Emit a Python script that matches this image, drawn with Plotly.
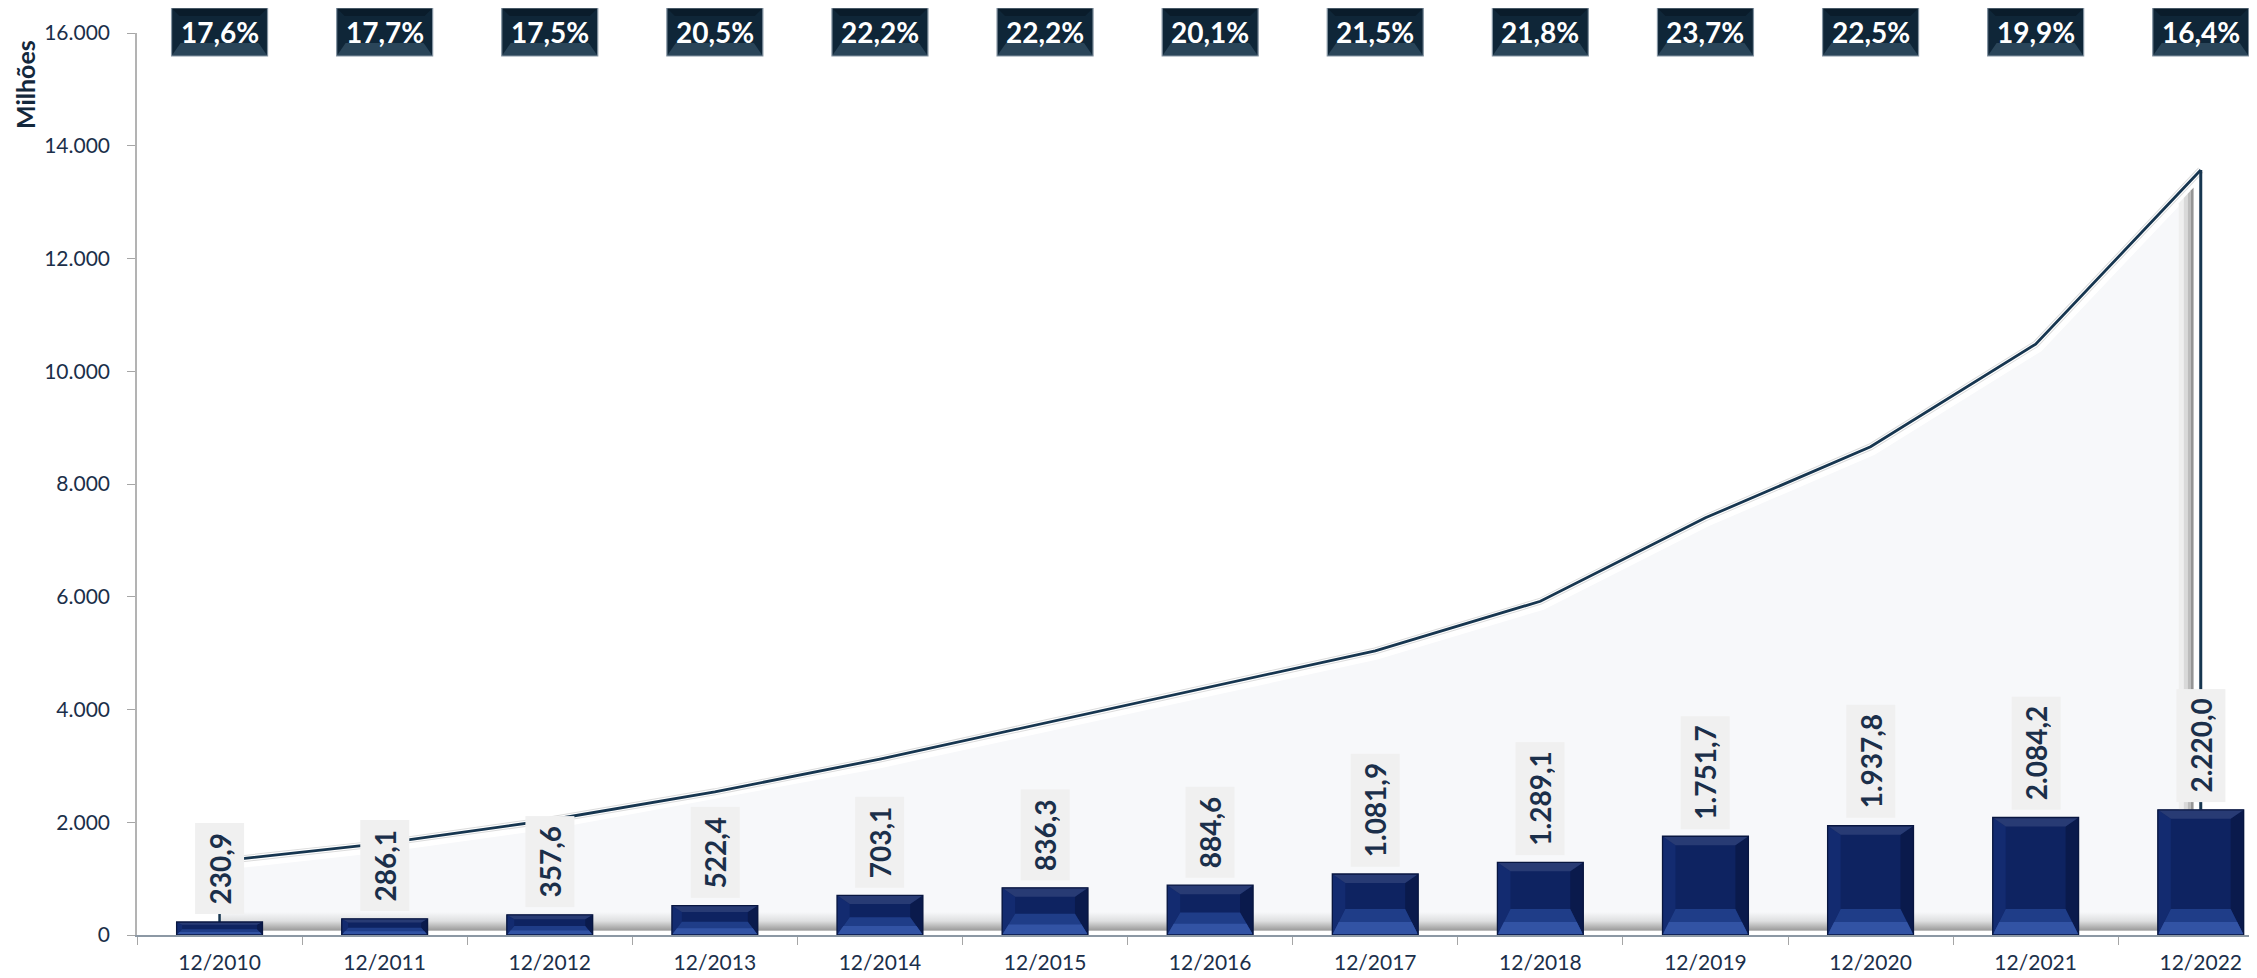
import plotly.graph_objects as go

# ---------------- data ----------------
categories = ["12/2010", "12/2011", "12/2012", "12/2013", "12/2014", "12/2015", "12/2016",
              "12/2017", "12/2018", "12/2019", "12/2020", "12/2021", "12/2022"]
bar_values = [230.9, 286.1, 357.6, 522.4, 703.1, 836.3, 884.6, 1081.9, 1289.1, 1751.7,
              1937.8, 2084.2, 2220.0]
line_values = [1310, 1630, 2040, 2540, 3120, 3760, 4400, 5040, 5920, 7400, 8660, 10480, 13570]
pct_labels = ["17,6%", "17,7%", "17,5%", "20,5%", "22,2%", "22,2%", "20,1%", "21,5%",
              "21,8%", "23,7%", "22,5%", "19,9%", "16,4%"]
y_ticks = [0, 2000, 4000, 6000, 8000, 10000, 12000, 14000, 16000]
y_title = "Milhões"

# ---------------- layout constants ----------------
# the page body has an 8px margin, so the figure is offset by 8px
OFF = 8
W, H = 2257, 978
ML, MR, MT = 137 - OFF, 0, 33 - OFF
MB = H - (935 - OFF)
PLOT_W, PLOT_H = W - ML - MR, H - MT - MB
Y_MIN, Y_MAX = 0, 16000
CAT_PX = 165.1
X_RANGE = [-0.5, -0.5 + PLOT_W / CAT_PX]
BAR_WIDTH = 0.52
UNITS_PER_PX = (Y_MAX - Y_MIN) / PLOT_H
BAR_PX = BAR_WIDTH * CAT_PX

FONT = "Lato"
TXT = "#1b2f4a"
LINE_DARK = "#173650"


def fmt_br(v):
    s = f"{v:,.1f}"
    return s.replace(",", "X").replace(".", ",").replace("X", ".")


def path(pts):
    return "M " + " L ".join(f"{x:.2f},{y:.2f}" for x, y in pts) + " Z"


fig = go.Figure()

# area with floor gradient
frac = lambda px: px / PLOT_H
fig.add_trace(go.Scatter(
    x=categories, y=line_values, mode="lines", fill="tozeroy",
    line=dict(color="#ffffff", width=18),
    fillgradient=dict(
        type="vertical", start=Y_MIN, stop=Y_MAX,
        colorscale=[[0, "#ffffff"], [frac(3.5), "#ffffff"], [frac(5), "#9d9d9d"],
                    [frac(8), "#b3b3b3"], [frac(14), "#dedfe0"], [frac(23), "#f7f8fa"],
                    [1, "#f7f8fa"]]),
    hoverinfo="skip", showlegend=False,
))
# thin light line just under the dark line (3D edge)
fig.add_trace(go.Scatter(
    x=categories, y=line_values, mode="lines",
    line=dict(color="#dcdcdc", width=7), hoverinfo="skip", showlegend=False,
))
fig.add_trace(go.Scatter(
    x=categories, y=line_values, mode="lines",
    line=dict(color="#ffffff", width=5), hoverinfo="skip", showlegend=False,
))
# dark line
fig.add_trace(go.Scatter(
    x=categories, y=line_values, mode="lines",
    line=dict(color=LINE_DARK, width=2.8), showlegend=False,
))
# bars (on an overlaid subplot so they are drawn above the area)
fig.add_trace(go.Bar(
    x=categories, y=bar_values, width=BAR_WIDTH, xaxis="x2", yaxis="y2",
    marker=dict(color="#0e2361", line=dict(width=0)), showlegend=False,
))

shapes = []

# right edge shading of the area
slope = (line_values[-1] - line_values[-2]) / CAT_PX
gap = 10 * UNITS_PER_PX
top_at = lambda px: line_values[-1] + px * slope - gap
for a, b, col in [(-22, -17, "#efefef"), (-17, -13, "#d9d9d9"), (-13, -10, "#bcbcbc"),
                  (-10, -7, "#959595"), (-7, -2, "#ffffff")]:
    shapes.append(dict(type="path", xref="x", yref="y", xsizemode="pixel",
                       xanchor=categories[-1], layer="above",
                       path=path([(a, bar_values[-1]), (b, bar_values[-1]),
                                  (b, top_at(b)), (a, top_at(a))]),
                       fillcolor=col, line=dict(width=0)))
# vertical edges of the area
shapes.append(dict(type="line", xref="x", yref="y", x0=categories[-1], x1=categories[-1],
                   y0=bar_values[-1], y1=line_values[-1], layer="above",
                   line=dict(color=LINE_DARK, width=3)))
shapes.append(dict(type="line", xref="x", yref="y", x0=categories[0], x1=categories[0],
                   y0=bar_values[0], y1=line_values[0], layer="above",
                   line=dict(color=LINE_DARK, width=2.5)))

# bevels for bars
hw = BAR_PX / 2
for cat, v in zip(categories, bar_values):
    h = v / UNITS_PER_PX
    bb = min(26, 0.45 * h)
    tb = min(9, 0.22 * h)
    bx = min(13, 0.6 * bb + 2)

    def add(pts, col, line=None):
        shapes.append(dict(type="path", xref="x", yref="y", xsizemode="pixel",
                           ysizemode="pixel", xanchor=cat, yanchor=0, layer="above",
                           path=path(pts), fillcolor=col,
                           line=line if line else dict(width=0)))
    add([(-hw, 0), (-hw, h), (-hw + bx, h - tb), (-hw + bx, bb)], "#132b70")
    add([(hw, 0), (hw, h), (hw - bx, h - tb), (hw - bx, bb)], "#0a1a4c")
    add([(-hw, h), (hw, h), (hw - bx, h - tb), (-hw + bx, h - tb)], "#283b74")
    add([(-hw, 0), (hw, 0), (hw - bx, bb), (-hw + bx, bb)], "#1f3d88")
    add([(-hw, 0), (hw, 0), (hw - bx * 0.5, bb * 0.5), (-hw + bx * 0.5, bb * 0.5)], "#3253a4")
    add([(-hw, 0), (hw, 0), (hw, h), (-hw, h)], "rgba(0,0,0,0)",
        dict(color="#081640", width=1.3))

# percentage boxes at the top
bw, bh = 48, 24
for cat in categories:
    def addp(pts, col, line=None):
        shapes.append(dict(type="path", xref="x", yref="paper", xsizemode="pixel",
                           ysizemode="pixel", xanchor=cat, yanchor=1, layer="above",
                           path=path(pts), fillcolor=col,
                           line=line if line else dict(width=0)))
    y0, y1 = -bh + 1, bh + 1
    addp([(-bw, y0), (bw, y0), (bw, y1), (-bw, y1)], "#0f2638")
    addp([(-bw, y0), (bw, y0), (bw - 9, y0 + 13), (-bw + 9, y0 + 13)], "#2a4559")
    addp([(-bw, y1), (bw, y1), (bw - 8, y1 - 8), (-bw + 8, y1 - 8)], "#0a1c2b")
    addp([(-bw, y0), (bw, y0), (bw, y1), (-bw, y1)], "rgba(0,0,0,0)",
         dict(color="#8494a2", width=1.2))

annotations = []
for cat, v in zip(categories, bar_values):
    annotations.append(dict(
        x=cat, y=v, xref="x", yref="y", text=fmt_br(v), showarrow=False,
        textangle=-90, yanchor="bottom", xanchor="center", yshift=7,
        bgcolor="#f0f0f0", borderpad=9, height=30,
        font=dict(family=FONT, size=28, color=TXT, weight="bold"),
    ))
for cat, p in zip(categories, pct_labels):
    annotations.append(dict(
        x=cat, y=1, xref="x", yref="paper", text=p, showarrow=False,
        yanchor="middle", xanchor="center", yshift=1,
        font=dict(family=FONT, size=28, color="#ffffff", weight="bold"),
    ))
annotations.append(dict(
    x=0, y=1, xref="paper", yref="paper", text=y_title, showarrow=False,
    textangle=-90, xanchor="center", yanchor="middle", xshift=25 - 137, yshift=-52,
    font=dict(family=FONT, size=25, color="#14283c", weight="bold"),
))

fig.update_layout(
    width=W, height=H,
    margin=dict(l=ML, r=MR, t=MT, b=MB, pad=0),
    paper_bgcolor="#ffffff", plot_bgcolor="#ffffff",
    separators=",.",
    barmode="overlay",
    showlegend=False,
    shapes=shapes,
    annotations=annotations,
    font=dict(family=FONT, color=TXT),
    xaxis=dict(
        type="category", range=X_RANGE, tickson="boundaries",
        ticks="outside", ticklen=8, tickcolor="#a6a6a6", tickwidth=1.3,
        showline=True, linecolor="#8c98a4", linewidth=1.5,
        showgrid=False, zeroline=False, ticklabelstandoff=8,
        tickfont=dict(family=FONT, size=21, color=TXT),
    ),
    yaxis=dict(
        range=[Y_MIN, Y_MAX], tickvals=y_ticks, tickformat=",d",
        ticks="outside", ticklen=8, tickcolor="#a6a6a6", tickwidth=1.3,
        showline=True, linecolor="#b3b3b3", linewidth=1.5,
        showgrid=False, zeroline=False, ticklabelstandoff=13,
        tickfont=dict(family=FONT, size=21, color=TXT),
    ),
    xaxis2=dict(type="category", overlaying="x", anchor="y2", range=X_RANGE,
                visible=False, categoryorder="array", categoryarray=categories),
    yaxis2=dict(overlaying="y", anchor="x2", range=[Y_MIN, Y_MAX], visible=False),
)

fig.write_html("out.html")
